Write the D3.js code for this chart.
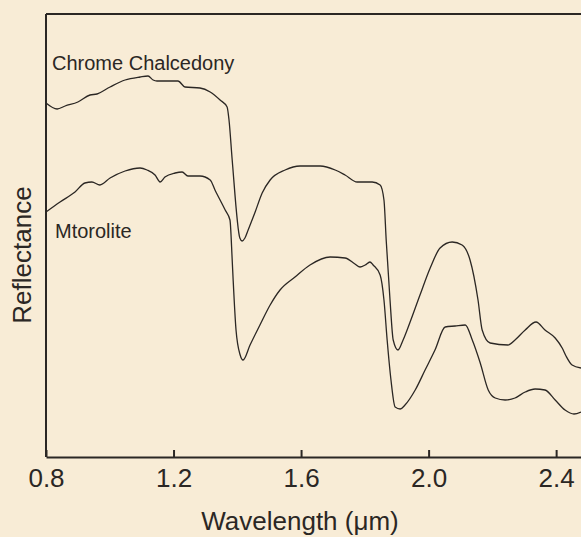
<!DOCTYPE html>
<html><head><meta charset="utf-8">
<script src="https://cdn.jsdelivr.net/npm/d3@7"></script>
<style>body{margin:0;background:#f8ecd6;}svg{display:block;font-family:"Liberation Sans",Arial,sans-serif;}</style>
</head><body><svg id="vizualizator" width="581" height="537"></svg>
<script>
var xTicks = [0.8, 1.2, 1.6, 2.0, 2.4];
var chalWave = [0.800,0.835,0.860,0.900,0.938,0.960,1.001,1.048,1.095,1.120,1.136,1.148,1.214,1.236,1.283,1.315,1.346,1.368,1.374,1.384,1.408,1.415,1.424,1.434,1.456,1.478,1.503,1.550,1.597,1.660,1.707,1.738,1.776,1.823,1.848,1.860,1.867,1.879,1.889,1.904,1.920,1.942,1.973,2.005,2.036,2.074,2.105,2.130,2.155,2.168,2.193,2.249,2.271,2.303,2.337,2.365,2.397,2.419,2.431,2.450,2.478];
var chalRefl = [35.4,34.8,35.1,35.5,36.2,36.3,37.0,37.7,38.0,38.1,37.7,37.6,37.6,37.0,36.9,36.5,35.7,35.0,33.7,29.7,21.9,21.6,21.9,22.7,24.5,26.4,27.7,28.7,29.1,29.1,28.7,28.2,27.5,27.5,27.2,25.7,21.7,15.7,11.7,10.7,11.7,13.5,16.2,18.9,20.9,21.5,21.2,19.7,15.7,12.7,11.4,11.2,11.7,12.7,13.5,12.7,11.9,10.9,10.1,9.2,8.9];
var mtorWave = [0.800,0.844,0.891,0.922,0.944,0.969,1.001,1.048,1.095,1.117,1.142,1.158,1.173,1.205,1.227,1.245,1.283,1.315,1.330,1.362,1.377,1.384,1.387,1.396,1.409,1.418,1.440,1.471,1.503,1.534,1.581,1.628,1.691,1.738,1.769,1.785,1.801,1.816,1.826,1.848,1.860,1.870,1.882,1.895,1.911,1.926,1.958,1.989,2.020,2.052,2.083,2.115,2.137,2.162,2.187,2.209,2.240,2.271,2.303,2.334,2.365,2.397,2.428,2.456,2.478];
var mtorRefl = [24.5,25.5,26.5,27.4,27.5,27.2,27.9,28.6,28.9,28.7,28.2,27.5,28.0,28.4,28.5,28.1,28.1,27.7,26.7,24.7,23.7,19.7,17.7,12.7,10.2,9.7,11.2,13.2,15.2,16.7,18.0,19.2,20.0,19.9,19.3,19.0,19.2,19.5,19.2,18.2,15.7,11.7,7.7,5.0,4.8,5.2,6.7,8.7,10.7,13.0,13.1,13.2,11.7,9.4,6.7,5.9,5.7,5.9,6.5,6.8,6.7,5.7,4.7,4.3,4.5];

var svg = d3.select("#vizualizator");
var x = d3.scaleLinear().domain([0.8, 2.478]).range([46, 581]);
var y = d3.scaleLinear().domain([0, 44.3]).range([457, 14]);
var ink = "#2b2724";

var line = d3.line().x(function(d){ return x(d[0]); }).y(function(d){ return y(d[1]); }).curve(d3.curveMonotoneX);
[[chalWave, chalRefl], [mtorWave, mtorRefl]].forEach(function(s){
    svg.append("path").datum(d3.zip(s[0], s[1])).attr("d", line)
        .attr("fill", "none").attr("stroke", ink).attr("stroke-width", 1.3);
});

// frame: left, top
svg.append("line").attr("x1", x(0.8)).attr("x2", x(0.8)).attr("y1", y(44.3)).attr("y2", y(0)).attr("stroke", ink).attr("stroke-width", 2);
svg.append("line").attr("x1", x(0.8)).attr("x2", 581).attr("y1", y(44.3)).attr("y2", y(44.3)).attr("stroke", ink).attr("stroke-width", 2);

var xAxis = d3.axisBottom(x).tickValues(xTicks).tickFormat(d3.format(".1f")).tickSize(7).tickSizeOuter(0);
var g = svg.append("g").attr("transform", "translate(0," + y(0) + ")").call(xAxis);
g.select(".domain").attr("stroke", ink).attr("stroke-width", 2);
g.selectAll(".tick line").attr("stroke", ink).attr("stroke-width", 2).attr("transform", "translate(0,-7)");
g.selectAll(".tick text").attr("font-size", 26).attr("fill", ink).attr("dy", "0.72em").attr("y", 11);

svg.append("text").attr("x", 300).attr("y", 530).attr("text-anchor", "middle").attr("font-size", 26).attr("fill", ink).text("Wavelength (\u03bcm)");
svg.append("text").attr("transform", "translate(31,255) rotate(-90)").attr("text-anchor", "middle").attr("font-size", 26).attr("fill", ink).text("Reflectance");
svg.append("text").attr("x", 52).attr("y", 70).attr("font-size", 20).attr("fill", ink).text("Chrome Chalcedony");
svg.append("text").attr("x", 55).attr("y", 238).attr("font-size", 20).attr("fill", ink).text("Mtorolite");
</script></body></html>
